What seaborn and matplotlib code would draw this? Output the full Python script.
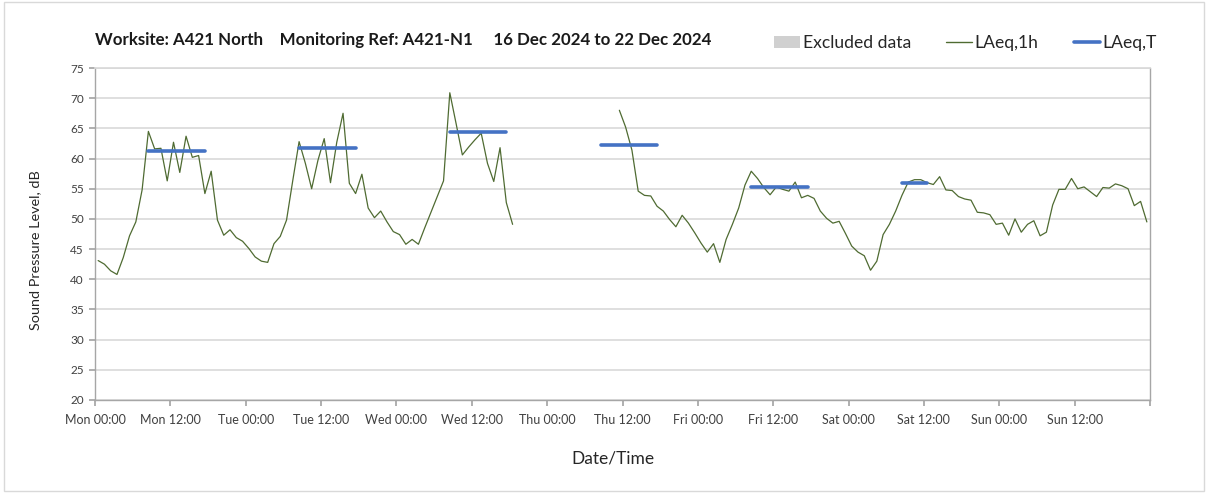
import numpy as np
import pandas as pd
import matplotlib
matplotlib.use("Agg")
import matplotlib.pyplot as plt
import seaborn as sns
from matplotlib.patches import Patch, Rectangle
from matplotlib.lines import Line2D

# ---------------- data ----------------
day_names = ["Mon", "Tue", "Wed", "Thu", "Fri", "Sat", "Sun"]
tick_labels = [f"{d} {t}" for d in day_names for t in ("00:00", "12:00")]

# hourly LAeq,1h values (hour index from Mon 00:00); NaN = no data
laeq_1h_mon = [43.1, 42.5, 41.4, 40.8, 43.6, 47.2, 49.5, 54.8, 64.5, 61.6, 61.7, 56.3,
               62.7, 57.7, 63.7, 60.2, 60.5, 54.2, 57.9, 49.8, 47.3, 48.2, 46.9, 46.3]
laeq_1h_tue = [45.1, 43.7, 43.0, 42.8, 45.9, 47.1, 49.8, 56.4, 62.8, 59.2, 55.0, 59.7,
               63.3, 56.0, 62.7, 67.5, 55.9, 54.2, 57.4, 51.8, 50.2, 51.3, 49.5, 47.9]
laeq_1h_wed = [47.4, 45.8, 46.6, 45.8, 48.5, 51.1, 53.7, 56.3, 70.9, 65.8, 60.6, 61.9,
               63.1, 64.2, 59.2, 56.2, 61.8, 52.7, 49.1, np.nan, np.nan, np.nan, np.nan, np.nan]
laeq_1h_thu = [np.nan, np.nan, np.nan, np.nan, np.nan, np.nan, np.nan, np.nan, np.nan, np.nan, np.nan,
               68.0, 65.2, 61.4, 54.6, 53.9, 53.8, 52.1, 51.3, 49.9, 48.7, 50.6, 49.3, 47.7]
laeq_1h_fri = [46.0, 44.5, 45.9, 42.8, 46.6, 49.1, 51.8, 55.6, 57.9, 56.7, 55.2, 54.0,
               55.3, 54.9, 54.6, 56.1, 53.5, 53.9, 53.4, 51.3, 50.1, 49.3, 49.6, 47.6]
laeq_1h_sat = [45.5, 44.5, 43.9, 41.5, 43.0, 47.4, 49.1, 51.3, 53.9, 56.1, 56.5, 56.5,
               56.0, 55.7, 57.0, 54.8, 54.7, 53.7, 53.3, 53.1, 51.1, 51.0, 50.7, 49.1]
laeq_1h_sun = [49.3, 47.3, 50.0, 47.8, 49.1, 49.7, 47.2, 47.8, 52.3, 54.9, 54.9, 56.7,
               55.0, 55.3, 54.5, 53.7, 55.2, 55.1, 55.8, 55.5, 55.0, 52.2, 52.9, 49.5]

# LAeq,T daytime periods (start / end hour index, value)
laeq_t_start_hour = [8, 32, 56, 80, 104, 128]
laeq_t_end_hour = [17, 41, 65, 89, 113, 132]
laeq_t_values = [61.25, 61.75, 64.4, 62.2, 55.3, 56.0]

# ---------------- frames ----------------
levels = np.array(laeq_1h_mon + laeq_1h_tue + laeq_1h_wed + laeq_1h_thu +
                  laeq_1h_fri + laeq_1h_sat + laeq_1h_sun, dtype=float)
hours = np.arange(len(levels))
seg = np.cumsum(np.isnan(levels))
df1 = pd.DataFrame({"hour": hours + 0.5, "level": levels, "seg": seg}).dropna()

rows = []
for k, (s, e, v) in enumerate(zip(laeq_t_start_hour, laeq_t_end_hour, laeq_t_values)):
    rows.append({"hour": s + 0.5, "level": v, "period": k})
    rows.append({"hour": e + 0.5, "level": v, "period": k})
dft = pd.DataFrame(rows)

# ---------------- style ----------------
sns.set_theme(style="white")
plt.rcParams["font.family"] = ["Lato", "DejaVu Sans"]

GREEN = "#4f6b32"
BLUE = "#4472C4"
GRID = "#d9d9d9"
TXT = "#404040"

fig = plt.figure(figsize=(12.08, 4.93), dpi=100)
ax = fig.add_axes([95 / 1208, 1 - 400 / 493, (1150 - 95) / 1208, (400 - 68) / 493])

sns.lineplot(data=df1, x="hour", y="level", units="seg", estimator=None,
             color=GREEN, lw=0.9, ax=ax, legend=False)
sns.lineplot(data=dft, x="hour", y="level", units="period", estimator=None,
             color=BLUE, lw=2.6, ax=ax, legend=False, solid_capstyle="round")

ax.set_xlim(0, 168)
ax.set_ylim(20, 75)
ax.set_yticks(np.arange(20, 76, 5))
ax.set_xticks(np.arange(0, 169, 12))
ax.set_xticklabels(tick_labels + [""])
ax.set_xticks(np.arange(0, 169, 24), minor=True)

ax.grid(False)
ax.yaxis.grid(True, color=GRID, lw=1.2)
ax.xaxis.grid(True, which="minor", color=GRID, lw=1.2)
ax.set_axisbelow(True)

for side in ["left", "bottom", "right"]:
    ax.spines[side].set_color("#a6a6a6")
    ax.spines[side].set_linewidth(1.0)
ax.spines["top"].set_color(GRID)

ax.tick_params(axis="x", which="major", length=4, color="#a6a6a6", labelsize=9,
               labelcolor=TXT, pad=6, bottom=True, direction="out")
ax.tick_params(axis="x", which="minor", length=0)
ax.tick_params(axis="y", length=4, color="#a6a6a6", labelsize=8.5, labelcolor=TXT,
               left=True, direction="out", pad=4)

ax.set_xlabel("Date/Time", fontsize=12.5, color="#262626")
ax.set_ylabel("Sound Pressure Level, dB", fontsize=10.4, color="#262626")
ax.xaxis.set_label_coords((613 - 95) / 1055, -(458 - 400) / 332)
ax.yaxis.set_label_coords((35 - 95) / 1055, (400 - 250) / 332)
ax.xaxis.label.set_va("center")
ax.yaxis.label.set_va("center")

fig.text(95 / 1208, 1 - 40 / 493,
         "Worksite: A421 North    Monitoring Ref: A421-N1     16 Dec 2024 to 22 Dec 2024",
         fontsize=12.2, fontweight="bold", color="#1a1a1a", va="center", ha="left")

handles = [Patch(facecolor="#d0d0d0", edgecolor="none"),
           Line2D([], [], color=GREEN, lw=1.0),
           Line2D([], [], color=BLUE, lw=2.6)]
fig.legend(handles, ["Excluded data", "LAeq,1h", "LAeq,T"], ncol=3, frameon=False,
           loc="center right", bbox_to_anchor=(1157 / 1208, 1 - 43 / 493),
           fontsize=12.6, handlelength=1.5, handletextpad=0.15, columnspacing=2.0,
           labelcolor="#262626", borderpad=0, borderaxespad=0)

fig.patches.append(Rectangle((4 / 1208, 2 / 493), 1200 / 1208, 489 / 493,
                             transform=fig.transFigure, fill=False,
                             edgecolor="#d9d9d9", lw=1.0))

fig.savefig("out.png", dpi=100, facecolor="white")
